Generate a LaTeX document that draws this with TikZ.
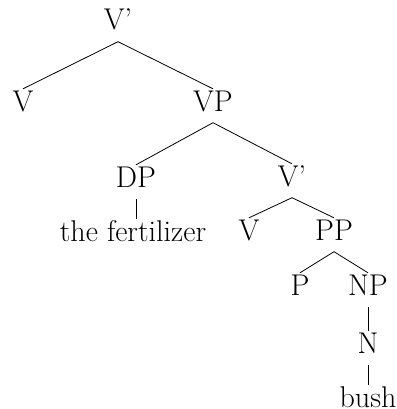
\documentclass[tikz,border=0pt]{standalone}
\begin{document}
\begin{tikzpicture}[x=1pt,y=-1pt,
  lbl/.style={font=\fontsize{30}{36}\selectfont, anchor=base, text height=20.5pt, text depth=10pt, inner sep=1.5pt},
  edge/.style={line width=0.8pt}]
\useasboundingbox (0,0) rectangle (396,409);
\node[lbl] (vbar1) at (118,30) {V'};
\node[lbl] (v1) at (23,111) {V};
\node[lbl] (vp) at (213,111) {VP};
\node[lbl] (dp) at (136,187) {DP};
\node[lbl] (vbar2) at (292,186) {V'};
\node[lbl] (fert) at (133,241) {the fertilizer};
\node[lbl] (v2) at (249,240) {V};
\node[lbl] (pp) at (334,240) {PP};
\node[lbl] (p) at (300,295) {P};
\node[lbl] (np) at (368,295) {NP};
\node[lbl] (n) at (368,353) {N};
\node[lbl, text depth=0pt] (bush) at (368,407) {bush};
\draw[edge] (vbar1.south) -- (v1.north);
\draw[edge] (vbar1.south) -- (vp.north);
\draw[edge] (vp.south) -- (dp.north);
\draw[edge] (vp.south) -- (vbar2.north);
\draw[edge] (dp.south) -- (dp.south |- fert.north);
\draw[edge] (vbar2.south) -- (v2.north);
\draw[edge] (vbar2.south) -- (pp.north);
\draw[edge] (pp.south) -- (p.north);
\draw[edge] (pp.south) -- (np.north);
\draw[edge] (np.south) -- (n.north);
\draw[edge] (n.south) -- (bush.north);
\end{tikzpicture}
\end{document}
